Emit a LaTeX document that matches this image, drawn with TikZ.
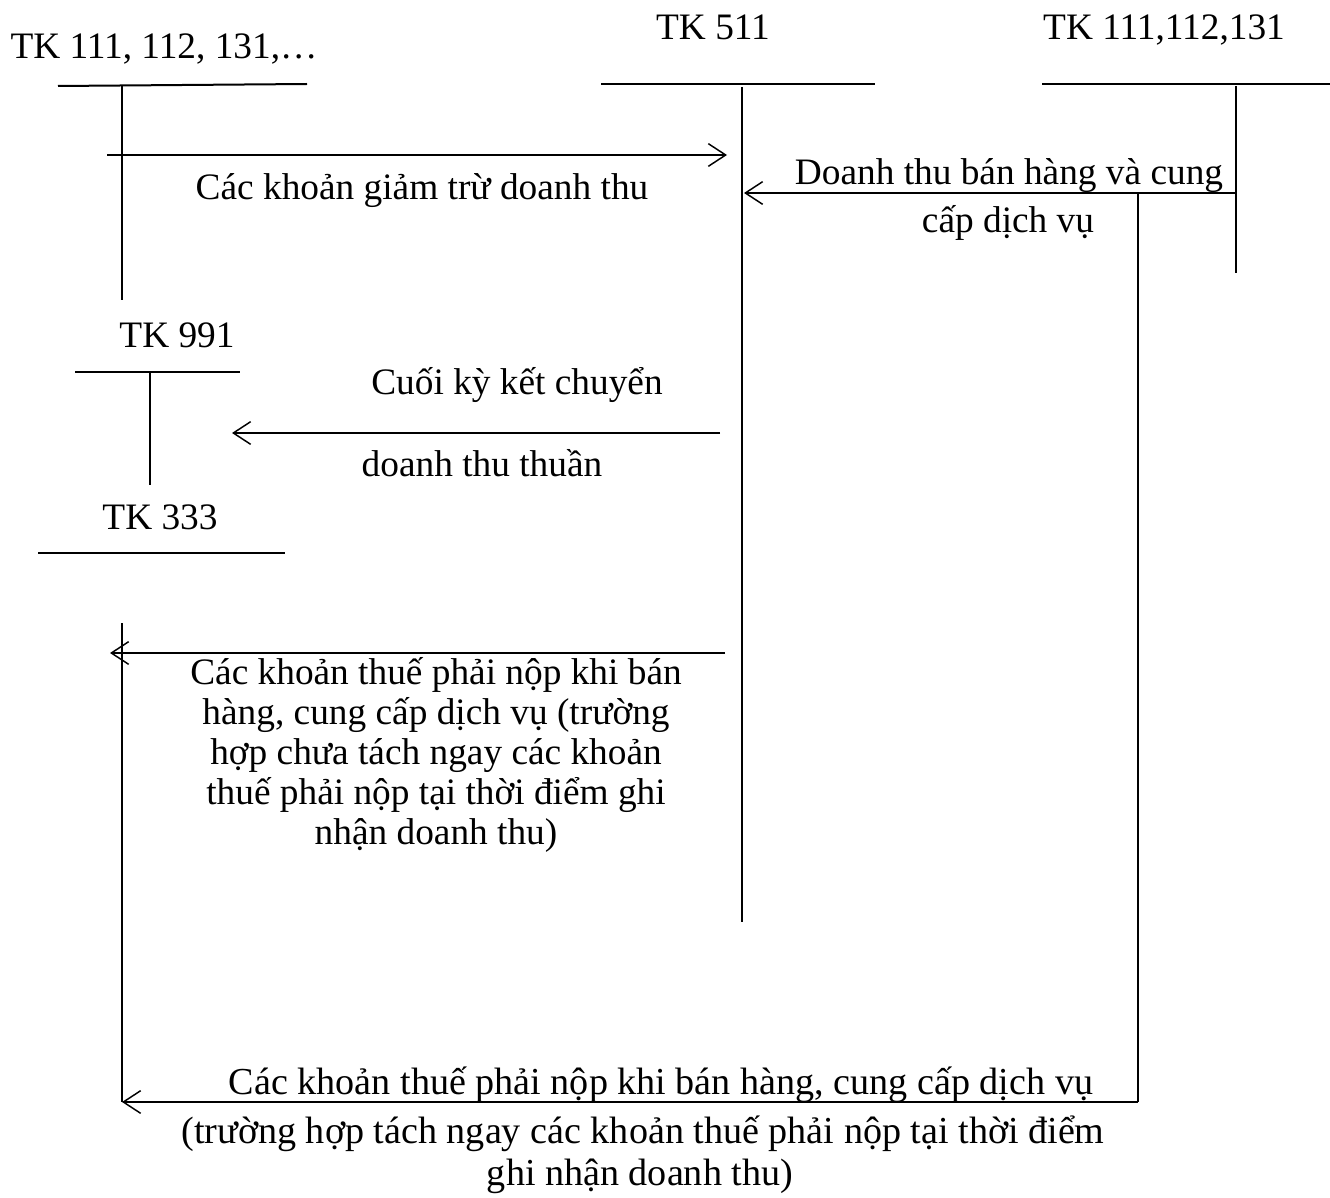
\documentclass[tikz,border=0pt]{standalone}
\usepackage{fontspec}
\setmainfont{Liberation Serif}
\usetikzlibrary{arrows.meta}
\begin{document}
\begin{tikzpicture}[x=0.75pt,y=-0.75pt,
  bar/.style={line width=1.5pt},
  stem/.style={line width=1.1pt},
  flow/.style={line width=1.1pt,-{Straight Barb[length=13pt,width=17pt,line width=1.1pt]}},
  lbl/.style={anchor=base,inner sep=0pt,font=\fontsize{28pt}{30pt}\selectfont},
  lblw/.style={lbl,font=\fontsize{28.6pt}{30pt}\selectfont}]
\useasboundingbox (0,0) rectangle (1330,1198);
% account titles
\node[lbl] (tA) at (164,59) {TK 111, 112, 131,…};
\node[lbl] (tB) at (713,40) {TK 511};
\node[lbl] (tC) at (1164,40) {TK 111,112,131};
\node[lbl] (tD) at (177,347) {TK 991};
\node[lbl] (tE) at (160,529) {TK 333};
% T-account coordinates
\coordinate (aL) at (58,86);   \coordinate (aR) at (307,84);
\coordinate (aT) at (122,86);  \coordinate (aB) at (122,300);
\coordinate (bL) at (601,84);  \coordinate (bR) at (875,84);
\coordinate (bT) at (742,87);  \coordinate (bB) at (742,922);
\coordinate (cL) at (1042,84); \coordinate (cR) at (1330,84);
\coordinate (cT) at (1236,86); \coordinate (cB) at (1236,273);
\coordinate (dL) at (75,372);  \coordinate (dR) at (240,372);
\coordinate (dT) at (150,372); \coordinate (dB) at (150,485);
\coordinate (eL) at (38,553);  \coordinate (eR) at (285,553);
\draw[bar] (aL) -- (aR);  \draw[stem] (aT) -- (aB);
\draw[bar] (bL) -- (bR);  \draw[stem] (bT) -- (bB);
\draw[bar] (cL) -- (cR);  \draw[stem] (cT) -- (cB);
\draw[bar] (dL) -- (dR);  \draw[stem] (dT) -- (dB);
\draw[bar] (eL) -- (eR);
% flow end points
\coordinate (f1s) at (107,155);  \coordinate (f1e) at (727,155);
\coordinate (f2s) at (1236,193); \coordinate (f2e) at (744,193);
\coordinate (f3s) at (720,433);  \coordinate (f3e) at (232,433);
\coordinate (f4s) at (725,653);  \coordinate (f4e) at (110,653);
\coordinate (vT) at (1138,193);  \coordinate (vB) at (1138,1102);
\coordinate (wT) at (122,623);   \coordinate (wB) at (122,1102);
\draw[flow] (f1s) -- (f1e);
\draw[flow] (f2s) -- (f2e);
\draw[flow] (f3s) -- (f3e);
\draw[flow] (f4s) -- (f4e);
\draw[stem] (vT) -- (vB);
\draw[stem] (wT) -- (wB);
\draw[flow] (vB) -- (wB);
% labels
\node[lbl] (l1) at (422,200) {Các khoản giảm trừ doanh thu};
\node[lbl] (l2a) at (1009,185) {Doanh thu bán hàng và cung};
\node[lbl] (l2b) at (1008,233) {cấp dịch vụ};
\node[lbl] (l3a) at (517,394) {Cuối kỳ kết chuyển};
\node[lbl] (l3b) at (482,476) {doanh thu thuần};
\node[lbl] (l4a) at (436,684) {Các khoản thuế phải nộp khi bán};
\node[lbl] (l4b) at (436,724) {hàng, cung cấp dịch vụ (trường};
\node[lbl] (l4c) at (436,764) {hợp chưa tách ngay các khoản};
\node[lbl] (l4d) at (436,804) {thuế phải nộp tại thời điểm ghi};
\node[lbl] (l4e) at (436,844) {nhận doanh thu)};
\node[lblw] (l5a) at (661,1094) {Các khoản thuế phải nộp khi bán hàng, cung cấp dịch vụ};
\node[lblw] (l5b) at (643,1143) {(trường hợp tách ngay các khoản thuế phải nộp tại thời điểm};
\node[lblw] (l5c) at (640,1185) {ghi nhận doanh thu)};
\end{tikzpicture}
\end{document}
